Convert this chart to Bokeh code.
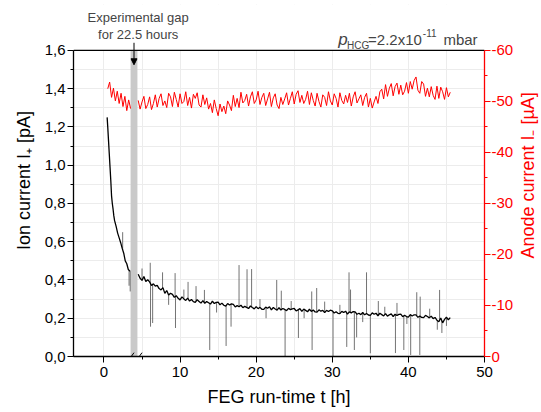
import math
import numpy as np
from bokeh.plotting import figure
from bokeh.layouts import row
from bokeh.models import (Range1d, LinearAxis, SingleIntervalTicker, CustomJSTickFormatter,
                          Label, Arrow, NormalHead, Span)
from bokeh.embed import file_html
from bokeh.resources import INLINE

# ---------------- data ----------------
# ion current I+ [pA], before the gap
t_ion_a = [0.42, 0.5, 0.6, 0.7, 0.8, 0.9, 1.0, 1.1, 1.2, 1.3, 1.4, 1.6, 1.8, 2.0,
           2.2, 2.4, 2.6, 2.8, 3.0, 3.2, 3.45]
ion_a = [1.25, 1.20, 1.13, 1.06, 0.99, 0.92, 0.84, 0.80, 0.77, 0.735, 0.71, 0.68, 0.645, 0.62,
         0.595, 0.565, 0.54, 0.50, 0.485, 0.455, 0.445]

# ion current after the gap, every 0.25 h from 4.5 h to 45.5 h
t_ion_b = [4.5 + 0.25 * i for i in range(165)]
ion_b = [0.430, 0.409,
         0.398, 0.418, 0.392, 0.401,
         0.390, 0.371, 0.380, 0.368,
         0.372, 0.355, 0.348, 0.360,
         0.330, 0.345, 0.322, 0.331,
         0.325, 0.309, 0.318, 0.304,
         0.296, 0.312, 0.301, 0.293,
         0.305, 0.290, 0.298, 0.287,
         0.283, 0.297, 0.288, 0.279,
         0.292, 0.278, 0.287, 0.281,
         0.274, 0.289, 0.277, 0.283,
         0.284, 0.270, 0.279, 0.268,
         0.263, 0.277, 0.269, 0.275,
         0.272, 0.259, 0.266, 0.260,
         0.268, 0.255, 0.262, 0.257,
         0.251, 0.264, 0.256, 0.249,
         0.261, 0.250, 0.257, 0.247,
         0.246, 0.258, 0.252, 0.260,
         0.244, 0.256, 0.248, 0.242,
         0.255, 0.243, 0.251, 0.246,
         0.240, 0.252, 0.245, 0.249,
         0.251, 0.238, 0.244, 0.250,
         0.236, 0.248, 0.241, 0.234,
         0.247, 0.236, 0.243, 0.233,
         0.232, 0.244, 0.237, 0.241,
         0.229, 0.241, 0.235, 0.242,
         0.239, 0.227, 0.234, 0.226,
         0.224, 0.236, 0.230, 0.237,
         0.222, 0.233, 0.228, 0.235,
         0.233, 0.221, 0.226, 0.219,
         0.230, 0.218, 0.225, 0.217,
         0.215, 0.228, 0.221, 0.226,
         0.213, 0.226, 0.219, 0.212,
         0.224, 0.211, 0.218, 0.223,
         0.209, 0.221, 0.214, 0.220,
         0.221, 0.208, 0.216, 0.209,
         0.206, 0.219, 0.212, 0.218,
         0.218, 0.205, 0.211, 0.204,
         0.203, 0.215, 0.209, 0.202,
         0.211, 0.198, 0.204, 0.190,
         0.182, 0.201, 0.176, 0.194,
         0.206, 0.192, 0.203]

# spikes of the ion current: time [h] and tip value [pA]
spike_t = [2.46, 3.3, 3.45, 5.0, 6.08, 6.12, 6.4, 7.7, 8.5, 9.35, 9.4, 10.5, 11.05, 12.1,
           13.2, 13.9, 14.8, 16.05, 16.7, 17.75, 18.8, 19.4, 20.5, 21.3, 22.7, 23.3, 23.8,
           24.6, 25.55, 26.3, 27.3, 27.35, 27.95, 29.0, 30.1, 31.0, 31.9, 32.2, 32.4, 32.9,
           33.2, 34.0, 34.5, 35.0, 36.05, 36.9, 38.3, 38.5, 39.4, 39.8, 40.3, 41.1, 41.5,
           41.55, 42.8, 43.8, 44.1, 44.4, 45.0]
spike_tip = [0.65, 0.37, 0.34, 0.46, 0.49, 0.156, 0.175, 0.44, 0.27, 0.436, 0.149, 0.35, 0.39,
             0.368, 0.348, 0.034, 0.23, 0.055, 0.156, 0.478, 0.456, 0.457, 0.30, 0.20, 0.40,
             0.344, 0.0, 0.29, 0.097, 0.20, 0.34, 0.034, 0.358, 0.287, 0.0, 0.27, 0.05, 0.44,
             0.35, 0.034, 0.10, 0.18, 0.44, 0.017, 0.29, 0.26, 0.018, 0.28, 0.034, 0.17,
             0.008, 0.336, 0.008, 0.313, 0.25, 0.14, 0.348, 0.123, 0.16]

# anode current I_ [uA], before the gap (0.5 .. 3.5 h, every 0.25 h)
t_an_a = [0.5 + 0.25 * i for i in range(13)]
an_a = [-52.5, -53.8, -50.8, -52.6, -50.1, -52.0, -49.6, -51.6, -49.0, -51.0, -48.2, -50.3, -48.6]

# anode current after the gap (4.5 .. 45.5 h, every 0.25 h)
t_an_b = [4.5 + 0.25 * i for i in range(165)]
an_b = [-50.2, -48.5,
        -49.9, -51.0, -48.6, -49.4,
        -50.9, -48.4, -49.6, -51.3,
        -48.9, -50.6, -51.5, -49.2,
        -50.1, -48.8, -51.6, -50.9,
        -49.0, -51.8, -50.4, -48.9,
        -51.5, -49.6, -50.0, -51.9,
        -49.2, -50.8, -48.7, -51.4,
        -50.6, -51.7, -49.3, -48.9,
        -51.3, -49.4, -50.7, -48.5,
        -49.6, -47.8, -50.3, -48.6,
        -47.2, -49.5, -48.0, -49.1,
        -47.6, -50.1, -49.3, -48.2,
        -51.2, -49.0, -50.6, -48.8,
        -51.8, -49.7, -50.2, -51.4,
        -49.1, -50.9, -51.9, -49.6,
        -50.3, -52.0, -49.4, -50.8,
        -51.6, -49.2, -50.5, -51.8,
        -49.0, -50.7, -51.5, -49.3,
        -48.6, -50.8, -49.4, -50.5,
        -51.7, -49.3, -50.6, -51.9,
        -49.5, -51.4, -52.1, -49.8,
        -51.2, -49.6, -50.4, -52.0,
        -49.4, -51.7, -50.2, -49.1,
        -51.6, -50.0, -48.9, -51.3,
        -50.8, -49.2, -51.9, -50.1,
        -49.3, -51.5, -50.6, -48.9,
        -51.7, -50.2, -49.5, -51.2,
        -49.8, -51.6, -49.1, -50.9,
        -51.9, -49.7, -50.5, -51.3,
        -49.2, -50.8, -51.6, -48.9,
        -50.6, -48.7, -49.9, -51.0,
        -49.6, -51.9, -52.4, -50.5,
        -53.3, -51.0, -52.6, -53.5,
        -51.1, -52.9, -53.6, -51.4,
        -53.2, -51.3, -52.0, -53.7,
        -51.6, -53.9, -52.4, -54.1,
        -54.8, -52.2, -51.6, -53.9,
        -53.4, -51.0, -52.6, -50.9,
        -52.9, -51.2, -50.4, -53.0,
        -50.6, -52.8, -51.9, -50.4,
        -52.7, -50.9, -51.8]

gap_start, gap_end = 3.5, 4.4
Y_MAX, AN_MIN = 1.6, -60
FONT = "Liberation Sans"

# frame extends above the data area so the header texts can sit in it
TOP_PX, DATA_TOP_PX, BOTTOM_PX = 4, 50, 356.5
y_top = Y_MAX * (BOTTOM_PX - TOP_PX) / (BOTTOM_PX - DATA_TOP_PX)
an_top = AN_MIN * y_top / Y_MAX

MAIN_W, LABEL_W, H = 516, 25, 412

# ---------------- main figure ----------------
p = figure(width=MAIN_W, height=H, x_range=Range1d(-4, 50), y_range=Range1d(0, y_top),
           output_backend="svg", toolbar_location=None,
           min_border_left=73, min_border_right=MAIN_W - 486, min_border_top=TOP_PX,
           min_border_bottom=56)
p.outline_line_color = None
p.background_fill_color = "white"
p.border_fill_color = "white"
p.extra_y_ranges = {"anode": Range1d(0, an_top)}

grid_col = "#ececec"
p.xgrid.grid_line_color = grid_col
p.xgrid.minor_grid_line_color = grid_col
p.ygrid.grid_line_color = grid_col
p.ygrid.minor_grid_line_color = grid_col
p.ygrid.bounds = (0, Y_MAX)

# white cover above the data area (hides grid there)
p.quad(left=[-4], right=[50], bottom=[Y_MAX], top=[y_top], color="white", line_color=None)

# gap band
p.quad(left=[gap_start], right=[gap_end], bottom=[0], top=[Y_MAX], color="#c9c9c9", line_color=None)

# anode current (red)
p.line(t_an_a, an_a, color="red", line_width=1, y_range_name="anode")
p.line(t_an_b, an_b, color="red", line_width=1, y_range_name="anode")

# ion current spikes + trace (black)
base = np.interp(spike_t, t_ion_a + t_ion_b, ion_a + ion_b)
p.segment(x0=spike_t, y0=base, x1=spike_t, y1=spike_tip, color="#444444", line_width=1, alpha=0.75)
p.line(t_ion_a, ion_a, color="black", line_width=1.3)
p.line(t_ion_b, ion_b, color="black", line_width=1.3)

# top border of the data area
p.add_layout(Span(location=Y_MAX, dimension="width", line_color="black", line_width=1.3))

# axes
ax = p.xaxis[0]
ax.ticker = SingleIntervalTicker(interval=10, num_minor_ticks=2)
ay = p.yaxis[0]
ay.ticker = SingleIntervalTicker(interval=0.2, num_minor_ticks=2)
ay.formatter = CustomJSTickFormatter(code="return tick.toFixed(1).replace('.', ',');")
ay.bounds = (0, Y_MAX)
ax.axis_label = "FEG run-time t [h]"
ay.axis_label = "Ion current I\u208a [pA]"

for a in (ax, ay):
    a.axis_line_color = "black"
    a.axis_line_width = 1.3
    a.major_tick_line_color = "black"
    a.minor_tick_line_color = "black"
    a.major_tick_out = 6
    a.major_tick_in = 0
    a.minor_tick_out = 3
    a.minor_tick_in = 0
    a.major_label_text_font = FONT
    a.major_label_text_font_size = "15px"
    a.major_label_text_color = "black"
    a.axis_label_text_font = FONT
    a.axis_label_text_font_size = "18px"
    a.axis_label_text_font_style = "normal"
    a.axis_label_text_color = "black"
ax.major_label_standoff = 4
ax.axis_label_standoff = 7
ay.major_label_standoff = 2
ay.axis_label_standoff = 8

ar = LinearAxis(y_range_name="anode",
                ticker=SingleIntervalTicker(interval=10, num_minor_ticks=2),
                formatter=CustomJSTickFormatter(code="return tick.toFixed(0);"))
ar.bounds = (AN_MIN, 0)
ar.axis_line_color = "red"
ar.axis_line_width = 1.3
ar.major_tick_line_color = "red"
ar.minor_tick_line_color = "red"
ar.major_tick_out = 6
ar.major_tick_in = 0
ar.minor_tick_out = 3
ar.minor_tick_in = 0
ar.major_label_text_font = FONT
ar.major_label_text_font_size = "15px"
ar.major_label_text_color = "red"
ar.major_label_standoff = 1
p.add_layout(ar, "right")

# gap annotation
p.add_layout(Label(x=4.5, y=1.770, text="Experimental gap", text_align="center",
                   text_baseline="middle", text_font=FONT, text_font_size="13px"))
p.add_layout(Label(x=4.5, y=1.681, text="for 22.5 hours", text_align="center",
                   text_baseline="middle", text_font=FONT, text_font_size="13px"))
p.add_layout(Arrow(end=NormalHead(size=6, fill_color="black", line_color="black"),
                   x_start=3.95, y_start=1.64, x_end=3.95, y_end=1.525,
                   line_color="black", line_width=1))

# axis break marks
for xs in (3.1, 4.15):
    p.add_layout(Arrow(end=None, x_start=xs, y_start=-0.027, x_end=xs + 0.85, y_end=0.02,
                       line_color="black", line_width=1))

# pressure annotation
p.add_layout(Label(x=30.8, y=1.655, text="p", text_font=FONT, text_font_size="17px",
                   text_font_style="italic", text_baseline="alphabetic"))
p.add_layout(Label(x=31.95, y=1.624, text="HCG", text_font=FONT, text_font_size="10px",
                   text_baseline="alphabetic"))
p.add_layout(Label(x=34.7, y=1.655, text="=2.2x10", text_font=FONT, text_font_size="15px",
                   text_baseline="alphabetic"))
p.add_layout(Label(x=41.9, y=1.692, text="-11", text_font=FONT, text_font_size="10px",
                   text_baseline="alphabetic"))
p.add_layout(Label(x=44.6, y=1.655, text="mbar", text_font=FONT, text_font_size="15px",
                   text_baseline="alphabetic"))

# ---------------- strip holding the right axis title ----------------
q = figure(width=LABEL_W, height=H, x_range=Range1d(0, LABEL_W), y_range=Range1d(0, H),
           output_backend="svg", toolbar_location=None,
           min_border_left=0, min_border_right=0, min_border_top=0, min_border_bottom=0)
q.axis.visible = False
q.grid.visible = False
q.outline_line_color = None
q.background_fill_color = "white"
q.border_fill_color = "white"
q.add_layout(Label(x=11, y=H - 200, text="Anode current I\u208b [\u00b5A]", angle=math.pi / 2,
                   text_align="center", text_baseline="middle", text_color="red",
                   text_font=FONT, text_font_size="18px"))

layout = row(p, q, spacing=0)
open("out.html", "w").write(file_html(layout, INLINE))
